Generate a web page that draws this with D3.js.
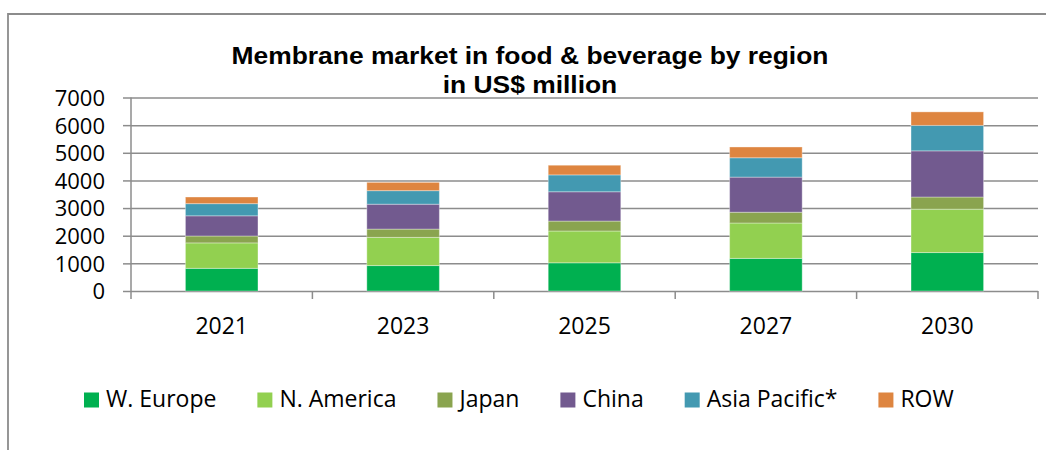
<!DOCTYPE html>
<html>
<head>
<meta charset="utf-8">
<script src="https://cdn.jsdelivr.net/npm/d3@7"></script>
<style>
  body { margin: 0; background: #fff; }
  svg { display: block; }
</style>
</head>
<body>
<div id="chart"></div>
<script>
// chart data
var years = ["2021", "2023", "2025", "2027", "2030"];
var regions = ["W. Europe", "N. America", "Japan", "China", "Asia Pacific*", "ROW"];
var wEurope = [820, 920, 1020, 1180, 1390];
var nAmerica = [920, 1020, 1150, 1280, 1570];
var japan = [250, 300, 360, 390, 440];
var china = [730, 900, 1060, 1270, 1670];
var asiaPacific = [440, 490, 610, 700, 920];
var row = [240, 300, 350, 390, 490];
var yTicks = [0, 1000, 2000, 3000, 4000, 5000, 6000, 7000];
var colors = ["#00b050", "#92d050", "#8aa44f", "#725a8f", "#4399b1", "#de8540"];

var svgWidth = 1046;
var svgHeight = 450;

var plot = { left: 131, right: 1038, top: 97.5, bottom: 291 };

var svg = d3.select("#chart")
    .append("svg")
    .attr("width", svgWidth)
    .attr("height", svgHeight);

// frame of the chart area (only top and left edges are visible)
svg.append("path")
    .attr("d", "M8,450 L8,14 L1046,14")
    .attr("fill", "none")
    .attr("stroke", "#8c8c8c")
    .attr("stroke-width", 1.8);

// build table for the stack
var series = [wEurope, nAmerica, japan, china, asiaPacific, row];
var table = years.map(function (yr, i) {
    var d = { year: yr };
    regions.forEach(function (r, k) { d[r] = series[k][i]; });
    return d;
});
var stacked = d3.stack().keys(regions)(table);

// scales
var xScale = d3.scaleBand()
    .domain(years)
    .range([plot.left, plot.right])
    .padding(0);

var yScale = d3.scaleLinear()
    .domain([0, 7000])
    .range([plot.bottom, plot.top]);

var barW = xScale.bandwidth() * 0.4;

// gridlines
svg.append("g")
    .attr("transform", `translate(${plot.left},0)`)
    .call(d3.axisLeft(yScale).tickValues(yTicks).tickSize(-(plot.right - plot.left)).tickFormat(""))
    .call(g => g.select(".domain").remove())
    .selectAll("line")
    .attr("stroke", "#8c8c8c")
    .attr("stroke-width", 1.5);

// y axis with labels
var yAxis = svg.append("g")
    .attr("transform", `translate(${plot.left},0)`)
    .call(d3.axisLeft(yScale).tickValues(yTicks).tickFormat(d3.format("d"))
        .tickSize(8).tickPadding(18).tickSizeOuter(0));
yAxis.select(".domain").remove();
yAxis.selectAll("line").attr("stroke", "#8c8c8c").attr("stroke-width", 1.5);
yAxis.selectAll("text")
    .attr("font-family", "'Open Sans', sans-serif")
    .attr("font-size", "22px")
    .attr("fill", "#000")
    .attr("dy", "0.36em");

// vertical axis line
svg.append("line")
    .attr("x1", plot.left).attr("x2", plot.left)
    .attr("y1", plot.top).attr("y2", plot.bottom + 8)
    .attr("stroke", "#8c8c8c")
    .attr("stroke-width", 1.5);

// category boundary ticks
var bounds = years.map(function (yr) { return xScale(yr) + xScale.bandwidth(); });
svg.append("g")
    .selectAll("line")
    .data(bounds)
    .enter()
    .append("line")
    .attr("x1", d => d).attr("x2", d => d)
    .attr("y1", plot.bottom).attr("y2", plot.bottom + 8)
    .attr("stroke", "#8c8c8c")
    .attr("stroke-width", 1.5);

// bars
svg.append("g")
    .selectAll("g")
    .data(stacked)
    .enter()
    .append("g")
    .attr("fill", (d, i) => colors[i])
    .selectAll("rect")
    .data(d => d)
    .enter()
    .append("rect")
    .attr("x", d => xScale(d.data.year) + (xScale.bandwidth() - barW) / 2)
    .attr("y", d => yScale(d[1]))
    .attr("width", barW)
    .attr("height", d => yScale(d[0]) - yScale(d[1]))
    .attr("stroke", "#ffffff")
    .attr("stroke-opacity", 0.35)
    .attr("stroke-width", 1);

// x labels
var xAxis = svg.append("g")
    .attr("transform", `translate(0,${plot.bottom})`)
    .call(d3.axisBottom(xScale).tickSize(0).tickPadding(0));
xAxis.select(".domain").remove();
xAxis.selectAll("text")
    .attr("font-family", "'Open Sans', sans-serif")
    .attr("font-size", "23px")
    .attr("fill", "#000")
    .attr("dy", null)
    .attr("y", 43);

// title (the picture is stretched sideways a little, so the text is too)
var title = svg.append("text")
    .attr("transform", "translate(530,0) scale(1.1,1)")
    .attr("text-anchor", "middle")
    .attr("font-family", "'Liberation Sans', Arial, sans-serif")
    .attr("font-weight", "bold")
    .attr("font-size", "24px")
    .attr("fill", "#000");
title.append("tspan").attr("x", 0).attr("y", 64)
    .text("Membrane market in food & beverage by region");
title.append("tspan").attr("x", 0).attr("y", 93)
    .text("in US$ million");

// legend
var legend = svg.append("g");
var cursor = 84;
regions.forEach(function (r, i) {
    var item = legend.append("g").attr("transform", `translate(${cursor},0)`);
    item.append("rect")
        .attr("x", 0).attr("y", 392.5)
        .attr("width", 15).attr("height", 15)
        .attr("fill", colors[i]);
    var t = item.append("text")
        .attr("x", 22).attr("y", 407)
        .attr("font-family", "'Open Sans', sans-serif")
        .attr("font-size", "23px")
        .attr("fill", "#000")
        .text(r);
    cursor += 22 + t.node().getComputedTextLength() + 41;
});
</script>
</body>
</html>
